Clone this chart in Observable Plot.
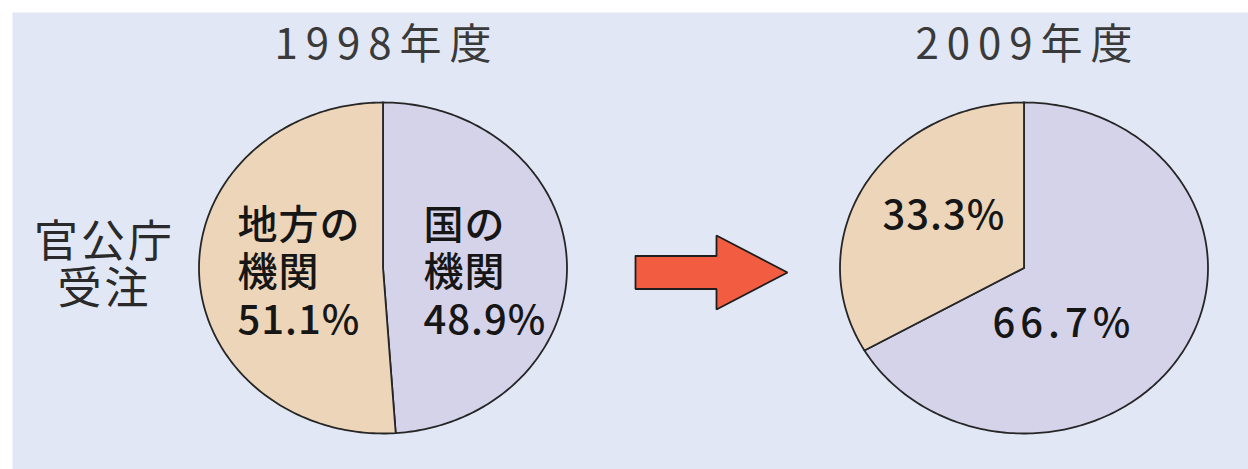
<!DOCTYPE html>
<html>
<head>
<meta charset="utf-8">
<script src="https://cdn.jsdelivr.net/npm/d3@7"></script>
<script src="https://cdn.jsdelivr.net/npm/@observablehq/plot@0.6"></script>
<style>
  html, body { margin: 0; padding: 0; background: #ffffff; }
  #chart svg { display: block; }
  .title text { letter-spacing: 8px; }
  .side text { letter-spacing: 3px; }
  .inner text { letter-spacing: 1px; }
  .wide text { letter-spacing: 5px; }
</style>
</head>
<body>
<div id="chart"></div>
<script>
// ---- data ----
const years = ["1998年度", "2009年度"];
const categories = ["国の機関", "地方の機関"];
const categoryNames = ["国の\n機関", "地方の\n機関"];
const nationalShare = [48.9, 66.7];
const localShare = [51.1, 33.3];
const showNames = [true, false];
const sideLabel = "官公庁\n受注";

// ---- layout / style ----
const W = 1248, H = 469;
const bg = "#e1e7f4";
const colors = {"国の機関": "#d5d3ea", "地方の機関": "#ecd5b9"};
const pieCx = [382.5, 1023.5], pieCy = 267.5, rx = 184, ry = 165.5;
const titleY = 45;
// label anchors (left edge, vertical middle) per year per category
const labelPos = [
  [{x: 423, y: 270.5}, {x: 237, y: 270.5}],
  [{x: 992, y: 321}, {x: 882, y: 213}]
];
const arrow = {x0: 635, xh: 716, x1: 787, cy: 272, shaftHalf: 16.5, headHalf: 37};

// ---- build slices ----
const sliceRows = [];
const labelRows = [];
years.forEach((yr, i) => {
  const values = [nationalShare[i], localShare[i]];
  let cum = 0;
  values.forEach((v, j) => {
    const a0 = cum / 100 * 2 * Math.PI, a1 = (cum + v) / 100 * 2 * Math.PI;
    const key = yr + categories[j];
    const n = Math.max(2, Math.ceil(v / 100 * 360));
    sliceRows.push({key, cat: categories[j], x: pieCx[i], y: pieCy});
    for (let k = 0; k <= n; k++) {
      const a = a0 + (a1 - a0) * k / n;
      sliceRows.push({key, cat: categories[j], x: pieCx[i] + rx * Math.sin(a), y: pieCy - ry * Math.cos(a)});
    }
    sliceRows.push({key, cat: categories[j], x: pieCx[i], y: pieCy});
    cum += v;
    const txt = (showNames[i] ? categoryNames[j] + "\n" : "") + v.toFixed(1) + "%";
    labelRows.push({text: txt, x: labelPos[i][j].x, y: labelPos[i][j].y, wide: i === 1 && j === 0});
  });
});

const titleRows = years.map((t, i) => ({text: t, x: pieCx[i] + 4, y: titleY}));
const arrowPts = [
  [arrow.x0, arrow.cy - arrow.shaftHalf], [arrow.xh, arrow.cy - arrow.shaftHalf],
  [arrow.xh, arrow.cy - arrow.headHalf], [arrow.x1, arrow.cy],
  [arrow.xh, arrow.cy + arrow.headHalf], [arrow.xh, arrow.cy + arrow.shaftHalf],
  [arrow.x0, arrow.cy + arrow.shaftHalf], [arrow.x0, arrow.cy - arrow.shaftHalf]
].map(([x, y]) => ({x, y}));

const font = "'Noto Sans CJK JP', 'Noto Sans', sans-serif";

const chart = Plot.plot({
  width: W, height: H,
  marginTop: 12, marginLeft: 12, marginRight: 0, marginBottom: 0,
  x: {domain: [12, W], axis: null},
  y: {domain: [12, H], range: [12, H], axis: null},
  style: {background: "#ffffff", fontFamily: font, overflow: "visible"},
  marks: [
    Plot.frame({fill: bg, stroke: "none"}),
    ...categories.map(c => Plot.line(sliceRows.filter(d => d.cat === c), {
      x: "x", y: "y", z: "key", fill: colors[c], stroke: "#262626", strokeWidth: 1.8,
      strokeLinejoin: "round", curve: "linear"
    })),
    Plot.line(arrowPts, {x: "x", y: "y", fill: "#f25c41", stroke: "#1e1e1e", strokeWidth: 1.8, strokeLinejoin: "miter"}),
    Plot.text(titleRows, {x: "x", y: "y", text: "text", fontSize: 42, fill: "#3a3a3a",
      textAnchor: "middle", lineAnchor: "middle", className: "title"}),
    Plot.text([sideLabel], {x: () => 104, y: () => 264.5, text: d => d, fontSize: 44, fill: "#2a2a2a",
      textAnchor: "middle", lineAnchor: "middle", lineHeight: 1.07, className: "side"}),
    Plot.text(labelRows.filter(d => !d.wide), {x: "x", y: "y", text: "text", fontSize: 40, fill: "#161616",
      fontWeight: 500, textAnchor: "start", lineAnchor: "middle", lineHeight: 1.19, className: "inner"}),
    Plot.text(labelRows.filter(d => d.wide), {x: "x", y: "y", text: "text", fontSize: 40, fill: "#161616",
      fontWeight: 500, textAnchor: "start", lineAnchor: "middle", lineHeight: 1.19, className: "wide"})
  ]
});
document.getElementById("chart").appendChild(chart);
</script>
</body>
</html>
